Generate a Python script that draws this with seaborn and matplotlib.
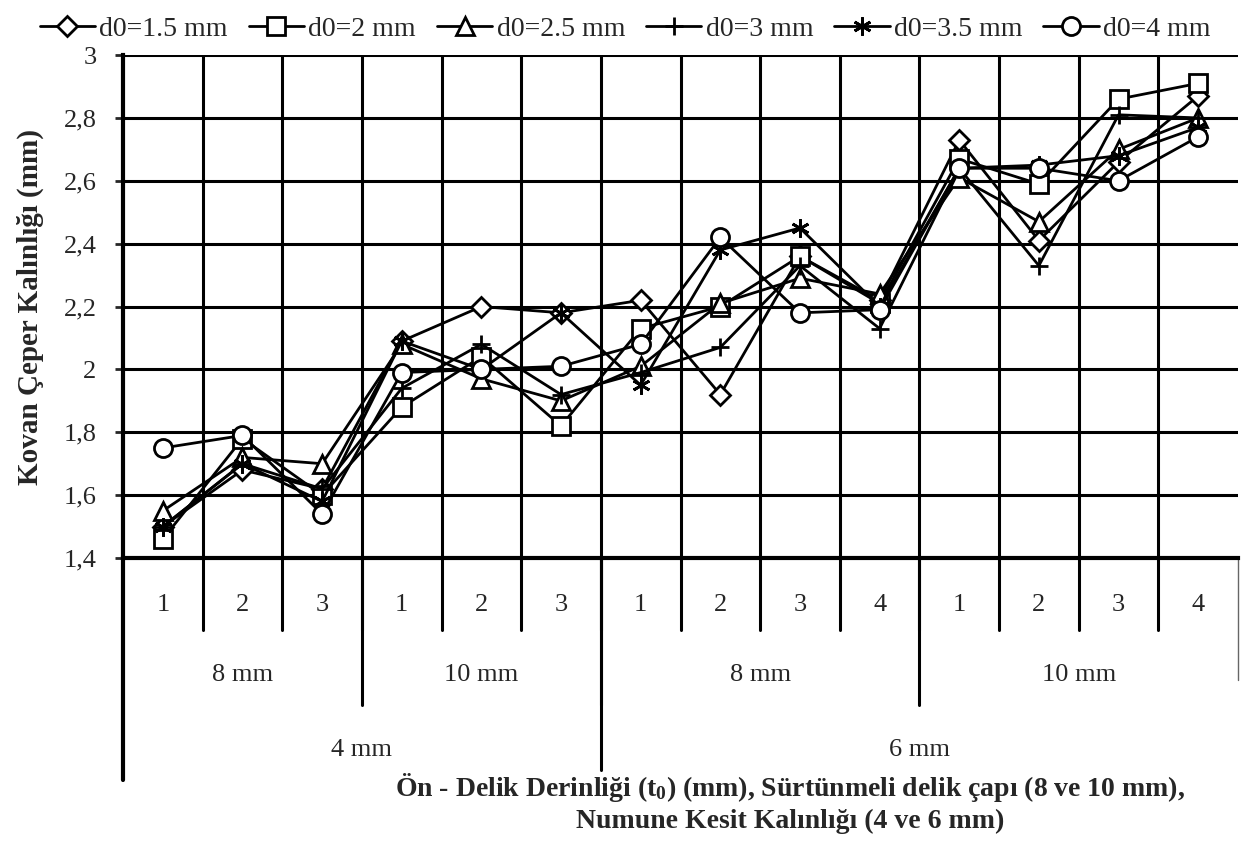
import numpy as np
import pandas as pd
import matplotlib
matplotlib.use("Agg")
import matplotlib.pyplot as plt
from matplotlib.ticker import FuncFormatter, MultipleLocator
import seaborn as sns

# values
series_names = ["d0=1.5 mm", "d0=2 mm", "d0=2.5 mm", "d0=3 mm", "d0=3.5 mm", "d0=4 mm"]
d15 = [1.50, 1.68, 1.62, 2.09, 2.20, 2.18, 2.22, 1.92, 2.36, 2.22, 2.73, 2.41, 2.66, 2.87]
d20 = [1.46, 1.78, 1.60, 1.88, 2.04, 1.82, 2.13, 2.20, 2.36, 2.21, 2.67, 2.59, 2.86, 2.91]
d25 = [1.55, 1.72, 1.70, 2.08, 1.97, 1.90, 2.01, 2.21, 2.29, 2.24, 2.61, 2.47, 2.70, 2.80]
d30 = [1.50, 1.70, 1.62, 1.94, 2.08, 1.92, 1.99, 2.07, 2.33, 2.13, 2.64, 2.33, 2.81, 2.80]
d35 = [1.50, 1.70, 1.58, 2.09, 2.00, 2.18, 1.95, 2.38, 2.45, 2.20, 2.64, 2.65, 2.68, 2.77]
d40 = [1.75, 1.79, 1.54, 1.99, 2.00, 2.01, 2.08, 2.42, 2.18, 2.19, 2.64, 2.64, 2.60, 2.74]

# multi-level category axis
level1 = ["1", "2", "3", "1", "2", "3", "1", "2", "3", "4", "1", "2", "3", "4"]
level2 = ["8 mm", "10 mm", "8 mm", "10 mm"]
level2_sizes = [3, 3, 4, 4]
level3 = ["4 mm", "6 mm"]
level3_sizes = [6, 8]

values = [d15, d20, d25, d30, d35, d40]
marker_list = ["D", "s", "^", "+", (6, 2, 0), "o"]
pos = np.arange(len(level1))
df = pd.concat([pd.DataFrame({"x": pos, "y": v, "seri": n}) for n, v in zip(series_names, values)])

sns.set_theme(style="white")
plt.rcParams["font.family"] = ["Liberation Serif", "DejaVu Serif"]
plt.rcParams["mathtext.fontset"] = "custom"
plt.rcParams["mathtext.rm"] = "Liberation Serif"
plt.rcParams["mathtext.bf"] = "Liberation Serif:bold"

fig = plt.figure(figsize=(12.5, 8.41), dpi=100)
ax = fig.add_axes([0.0984, 0.3365, 0.892, 0.598])

# one call per series: seaborn won't mix filled and line-art markers in one style map
for name, m in zip(series_names, marker_list):
    sub = df[df["seri"] == name]
    sns.lineplot(data=sub, x="x", y="y", marker=m, color="black", linewidth=2,
                 markersize=10 if m == "D" else 13, markerfacecolor="white",
                 markeredgecolor="black", markeredgewidth=2, legend=False, ax=ax)

ax.set_xlim(-0.5, len(level1) - 0.5)
ax.set_ylim(1.4, 3.0)
ax.yaxis.set_major_locator(MultipleLocator(0.2))
ax.yaxis.set_major_formatter(FuncFormatter(lambda v, p: f"{v:.1f}".replace(".", ",").replace(",0", "")))
ax.set_xticks(pos, labels=level1)
ax.set_xticks(pos[:-1] + 0.5, minor=True)
ax.tick_params(axis="x", which="both", length=0, pad=26, labelsize=19)
ax.tick_params(axis="y", length=6, width=2, direction="out", left=True, labelsize=19, pad=13)
ax.grid(True, axis="y", which="major", color="black", linewidth=2.2)
ax.grid(True, axis="x", which="minor", color="black", linewidth=2.2)
ax.set_axisbelow(True)
for s in ["top", "right"]:
    ax.spines[s].set_visible(False)
ax.spines["left"].set_linewidth(3)
ax.spines["bottom"].set_linewidth(3)
ax.spines["left"].set_color("black")
ax.spines["bottom"].set_color("black")
ax.set_xlabel("")
ax.set_ylabel("Kovan Çeper Kalınlığı (mm)", fontsize=21, fontweight="bold", labelpad=14)

# separators and labels below the axis
tr = ax.get_xaxis_transform()
def vline(x, y1, lw=2.2, color="black"):
    ax.plot([x, x], [0, y1], transform=tr, color=color, linewidth=lw, clip_on=False)

series_lines = list(ax.get_lines())

for b in pos[:-1] + 0.5:
    vline(b, -0.143)
vline(-0.5, -0.441, lw=3)
vline(len(level1) - 0.5, -0.243, lw=1, color="0.4")

start = -0.5
for lab, n in zip(level2, level2_sizes):
    ax.text(start + n / 2, -0.233, lab, transform=tr, ha="center", va="center", fontsize=19)
    start += n
    if start < len(level1) - 0.5:
        vline(start, -0.292)
start = -0.5
for lab, n in zip(level3, level3_sizes):
    ax.text(start + n / 2, -0.382, lab, transform=tr, ha="center", va="center", fontsize=19)
    start += n
    if start < len(level1) - 0.5:
        vline(start, -0.421)

fig.text(0.632, 0.008, "Ön - Delik Derinliği (" + r"$\mathbf{t_0}$" + ") (mm), Sürtünmeli delik çapı (8 ve 10 mm),\nNumune Kesit Kalınlığı (4 ve 6 mm)",
         ha="center", va="bottom", fontsize=20, fontweight="bold", linespacing=1.25)

fig.legend(handles=series_lines, labels=series_names, loc="upper center",
           bbox_to_anchor=(0.5, 1.0), ncol=6, frameon=False, fontsize=20,
           handlelength=2.0, handletextpad=0.15, columnspacing=0.75, borderaxespad=0.2)

fig.savefig("out.png", dpi=100)
